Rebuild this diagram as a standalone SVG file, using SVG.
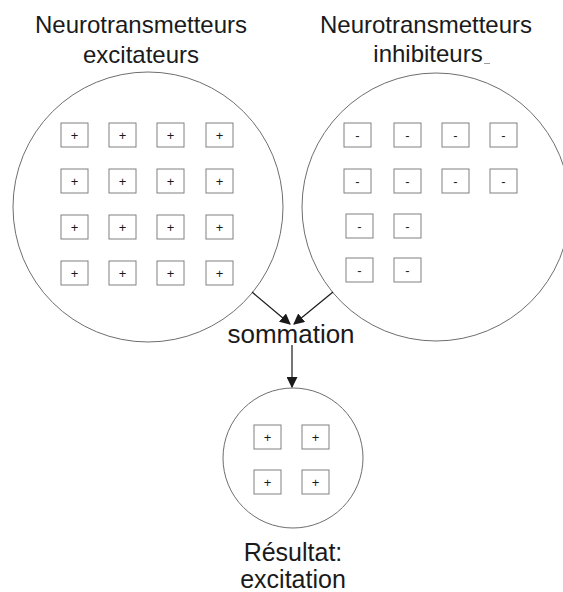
<svg xmlns="http://www.w3.org/2000/svg" width="563" height="592" viewBox="0 0 563 592">
  <defs>
    <style>
      .title { font-family: "Liberation Sans", Arial, sans-serif; font-size: 24px; fill: #1a1a1a; text-anchor: middle; }
      .label { font-family: "Liberation Sans", Arial, sans-serif; font-size: 26px; fill: #1a1a1a; text-anchor: middle; }
      .result { font-family: "Liberation Sans", Arial, sans-serif; font-size: 25px; fill: #1a1a1a; text-anchor: middle; }
      .pool { fill: #ffffff; stroke: #6e6e6e; stroke-width: 1; }
      .box { fill: #ffffff; stroke: #808080; stroke-width: 1; }
      .sign { font-family: "Liberation Sans", Arial, sans-serif; font-size: 13px; fill: #1a1a1a; text-anchor: middle; }
      .wire { stroke: #1a1a1a; stroke-width: 1.2; fill: none; marker-end: url(#head); }
    </style>
    <marker id="head" viewBox="0 0 10 10" refX="9" refY="5" markerWidth="11" markerHeight="11" markerUnits="userSpaceOnUse" orient="auto">
      <path d="M0,0 L10,5 L0,10 z" fill="#1a1a1a"/>
    </marker>
    <g id="plus">
      <rect class="box" x="0" y="0" width="27" height="24"/>
      <text class="sign" x="13.5" y="16.5">+</text>
    </g>
    <g id="minus">
      <rect class="box" x="0" y="0" width="27" height="24"/>
      <text class="sign" x="13.5" y="16.5">-</text>
    </g>
  </defs>

  <rect width="563" height="592" fill="#ffffff"/>

  <!-- excitatory pool -->
  <g id="excitateurs">
    <text class="title" x="141" y="33">Neurotransmetteurs</text>
    <text class="title" x="141" y="63">excitateurs</text>
    <circle class="pool" cx="148" cy="207" r="135"/>
    <use href="#plus" x="61" y="123"/><use href="#plus" x="109" y="123"/><use href="#plus" x="157" y="123"/><use href="#plus" x="206" y="123"/>
    <use href="#plus" x="61" y="169"/><use href="#plus" x="109" y="169"/><use href="#plus" x="157" y="169"/><use href="#plus" x="206" y="169"/>
    <use href="#plus" x="61" y="215"/><use href="#plus" x="109" y="215"/><use href="#plus" x="157" y="215"/><use href="#plus" x="206" y="215"/>
    <use href="#plus" x="61" y="261"/><use href="#plus" x="109" y="261"/><use href="#plus" x="157" y="261"/><use href="#plus" x="206" y="261"/>
  </g>

  <!-- inhibitory pool -->
  <g id="inhibiteurs">
    <text class="title" x="426" y="33">Neurotransmetteurs</text>
    <text class="title" x="428" y="62" font-size="22">inhibiteurs</text>
    <line x1="484" y1="63.5" x2="490" y2="63.5" stroke="#9a9a9a" stroke-width="1"/>
    <circle class="pool" cx="436" cy="207" r="134"/>
    <use href="#minus" x="344" y="123"/><use href="#minus" x="394" y="123"/><use href="#minus" x="442" y="123"/><use href="#minus" x="490" y="123"/>
    <use href="#minus" x="344" y="169"/><use href="#minus" x="394" y="169"/><use href="#minus" x="442" y="169"/><use href="#minus" x="490" y="169"/>
    <use href="#minus" x="346" y="214"/><use href="#minus" x="394" y="214"/>
    <use href="#minus" x="346" y="258"/><use href="#minus" x="394" y="258"/>
  </g>

  <!-- summation label -->
  <g id="sommation">
    <text class="label" x="291" y="343">sommation</text>
  </g>

  <!-- resulting pool -->
  <g id="resultat">
    <circle class="pool" cx="293" cy="458" r="70"/>
    <use href="#plus" x="254" y="425"/><use href="#plus" x="302" y="425"/>
    <use href="#plus" x="254" y="470"/><use href="#plus" x="302" y="470"/>
    <text class="result" x="293" y="561">Résultat:</text>
    <text class="result" x="293" y="588">excitation</text>
  </g>

  <!-- connectors -->
  <g id="connectors">
    <line class="wire" x1="252" y1="292" x2="290" y2="324"/>
    <line class="wire" x1="333" y1="292" x2="294" y2="324"/>
    <line class="wire" x1="292" y1="345" x2="292" y2="387"/>
  </g>
</svg>
